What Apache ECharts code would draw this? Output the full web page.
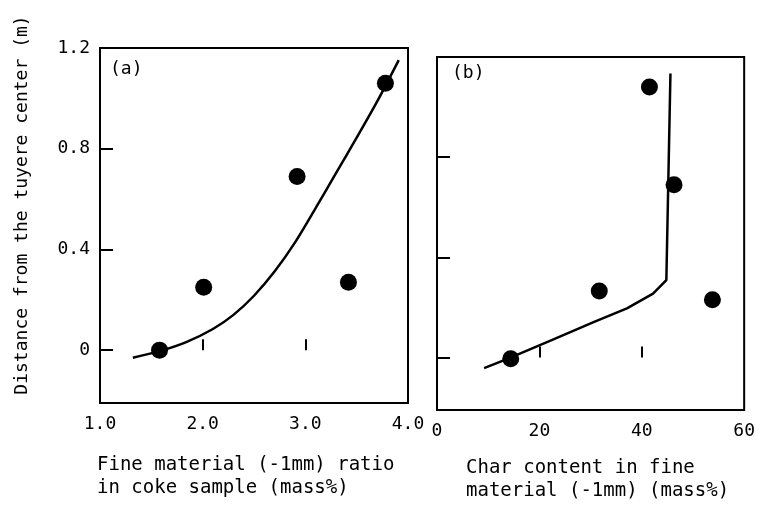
<!DOCTYPE html>
<html>
<head>
<meta charset="utf-8">
<script src="https://cdn.jsdelivr.net/npm/echarts@6/dist/echarts.min.js"></script>
<style>
  html, body { margin: 0; padding: 0; background: #fff; }
  #chart { width: 758px; height: 508px; }
</style>
</head>
<body>
<div id="chart"></div>
<script>
    // panel (a): fine material ratio vs distance
    var ratioPoints = [[1.58, 0.0], [2.01, 0.25], [2.92, 0.69], [3.42, 0.27], [3.78, 1.06]];
    var ratioCurve = [[1.32, -0.03], [1.58, -0.004], [1.84, 0.032], [2.1, 0.084], [2.3, 0.14],
                      [2.5, 0.216], [2.7, 0.312], [2.9, 0.428], [3.1, 0.564], [3.3, 0.704],
                      [3.5, 0.844], [3.7, 0.988], [3.91, 1.152]];
    // panel (b): char content vs distance
    var charPoints = [[14.4, -0.005], [31.7, 0.265], [53.8, 0.23], [41.5, 1.08], [46.3, 0.69]];
    var charCurve = [[9.2, -0.043], [14.0, -0.004], [22.4, 0.069], [30.7, 0.142], [37.1, 0.196],
                     [42.2, 0.255], [44.8, 0.309], [45.6, 1.134]];
    var yTicks = [0, 0.4, 0.8, 1.2];
    var ratioTicks = [1, 2, 3, 4];
    var charTicks = [0, 20, 40, 60];

    var font = 'DejaVu Sans Mono';
    var black = '#000';

    var option = {
        backgroundColor: '#fff',
        animation: false,
        grid: [
            { left: 100, top: 48, width: 308, height: 355, show: true, borderColor: black, borderWidth: 2 },
            { left: 437, top: 57, width: 312, height: 353, show: true, borderColor: black, borderWidth: 2 }
        ],
        xAxis: [
            {
                gridIndex: 0, type: 'value', min: 1, max: 4,
                splitLine: { show: false },
                axisLine: { show: false },
                axisTick: { show: true, inside: true, length: 11, customValues: [2, 3], lineStyle: { color: black, width: 2 } },
                axisLabel: {
                    customValues: ratioTicks, margin: 12, color: black, fontFamily: font, fontSize: 18,
                    formatter: function (v) { return v.toFixed(1); }
                }
            },
            {
                gridIndex: 1, type: 'value', min: 0, max: 60,
                splitLine: { show: false },
                axisLine: { show: false },
                axisTick: { show: true, inside: true, length: 11, customValues: [20, 40], lineStyle: { color: black, width: 2 } },
                axisLabel: { customValues: charTicks, margin: 12, color: black, fontFamily: font, fontSize: 18 }
            }
        ],
        yAxis: [
            {
                gridIndex: 0, type: 'value', min: -0.21, max: 1.2,
                splitLine: { show: false },
                axisLine: { show: false },
                axisTick: { show: true, inside: true, length: 13, customValues: [0, 0.4, 0.8], lineStyle: { color: black, width: 2 } },
                axisLabel: {
                    customValues: yTicks, margin: 10, color: black, fontFamily: font, fontSize: 18,
                    formatter: function (v) { return v === 0 ? '0' : v.toFixed(1); }
                }
            },
            {
                gridIndex: 1, type: 'value', min: -0.21, max: 1.2,
                splitLine: { show: false },
                axisLine: { show: false },
                axisTick: { show: true, inside: true, length: 13, customValues: [0, 0.4, 0.8], lineStyle: { color: black, width: 2 } },
                axisLabel: { show: false }
            }
        ],
        series: [
            {
                type: 'line', xAxisIndex: 0, yAxisIndex: 0, data: ratioCurve,
                smooth: 0.3, showSymbol: false,
                lineStyle: { color: black, width: 2.5 }
            },
            {
                type: 'scatter', xAxisIndex: 0, yAxisIndex: 0, data: ratioPoints,
                symbolSize: 17, itemStyle: { color: black, opacity: 1 }
            },
            {
                type: 'line', xAxisIndex: 1, yAxisIndex: 1, data: charCurve,
                smooth: false, showSymbol: false,
                lineStyle: { color: black, width: 2.5 }
            },
            {
                type: 'scatter', xAxisIndex: 1, yAxisIndex: 1, data: charPoints,
                symbolSize: 17, itemStyle: { color: black, opacity: 1 }
            }
        ],
        graphic: [
            { type: 'text', left: 110, top: 60, style: { text: '(a)', font: '18px ' + font, fill: black } },
            { type: 'text', left: 452, top: 64, style: { text: '(b)', font: '18px ' + font, fill: black } },
            {
                type: 'text', x: 22, y: 205, rotation: Math.PI / 2,
                style: { text: 'Distance from the tuyere center (m)', font: '18px ' + font, fill: black, align: 'center', verticalAlign: 'middle' }
            },
            {
                type: 'text', left: 97, top: 454,
                style: { text: 'Fine material (-1mm) ratio\nin coke sample (mass%)', font: '19px ' + font, lineHeight: 23, fill: black }
            },
            {
                type: 'text', left: 466, top: 457,
                style: { text: 'Char content in fine\nmaterial (-1mm) (mass%)', font: '19px ' + font, lineHeight: 23, fill: black }
            }
        ]
    };

    var myChart = echarts.init(document.getElementById('chart'));
    myChart.setOption(option);
</script>
</body>
</html>
